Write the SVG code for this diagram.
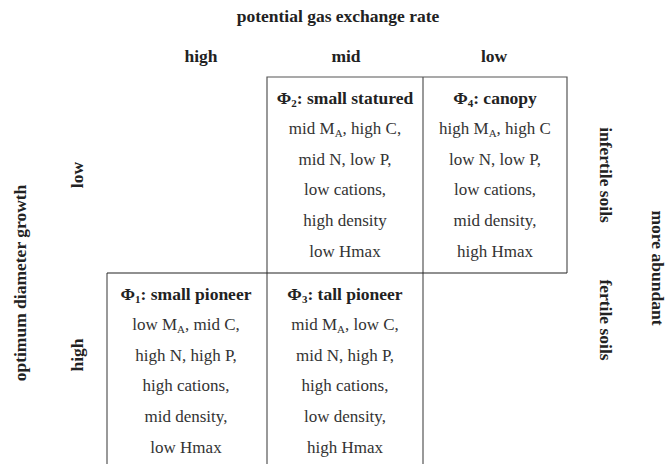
<svg xmlns="http://www.w3.org/2000/svg" width="670" height="466" viewBox="0 0 670 466">
<style>
text{font-family:"Liberation Serif","Times New Roman",serif;font-size:17px;fill:#333;text-anchor:middle}
.b{font-weight:bold;fill:#222;font-size:17.5px}
.s{font-size:11px}
.ln{stroke:#555;stroke-width:1.2;fill:none}
.hl{stroke:#222;stroke-width:1.2;fill:none}
</style>
<rect width="670" height="466" fill="#fff"/>
<g id="axis-labels">
<text class="b" x="338" y="22">potential gas exchange rate</text>
<text class="b" x="201" y="62">high</text>
<text class="b" x="346" y="62">mid</text>
<text class="b" x="494" y="62">low</text>
<text class="b" transform="translate(26,283) rotate(-90)">optimum diameter growth</text>
<text class="b" transform="translate(83,175) rotate(-90)">low</text>
<text class="b" transform="translate(83,355) rotate(-90)">high</text>
<text class="b" transform="translate(600,175) rotate(90)">infertile soils</text>
<text class="b" transform="translate(600,320) rotate(90)">fertile soils</text>
<text class="b" transform="translate(652,268) rotate(90)">more abundant</text>
</g>
<g id="connectors">
<path class="ln" d="M267,273 V77 H567 V273"/>
<path class="ln" d="M423,77 V464"/>
<path class="ln" d="M267,273 V464"/>
<path class="ln" d="M107,464 V273"/>
<path class="hl" d="M107,273 H567"/>
</g>
<g id="phi2">
<text class="b" x="345" y="104">Φ<tspan class="s" dy="3">2</tspan><tspan dy="-3">: small statured</tspan></text>
<text x="345" y="134">mid M<tspan class="s" dy="3">A</tspan><tspan dy="-3">, high C,</tspan></text>
<text x="345" y="165">mid N, low P,</text>
<text x="345" y="195">low cations,</text>
<text x="345" y="226">high density</text>
<text x="345" y="257">low Hmax</text>
</g>
<g id="phi4">
<text class="b" x="495" y="104">Φ<tspan class="s" dy="3">4</tspan><tspan dy="-3">: canopy</tspan></text>
<text x="495" y="134">high M<tspan class="s" dy="3">A</tspan><tspan dy="-3">, high C</tspan></text>
<text x="495" y="165">low N, low P,</text>
<text x="495" y="195">low cations,</text>
<text x="495" y="226">mid density,</text>
<text x="495" y="257">high Hmax</text>
</g>
<g id="phi1">
<text class="b" x="186" y="300">Φ<tspan class="s" dy="3">1</tspan><tspan dy="-3">: small pioneer</tspan></text>
<text x="186" y="330">low M<tspan class="s" dy="3">A</tspan><tspan dy="-3">, mid C,</tspan></text>
<text x="186" y="361">high N, high P,</text>
<text x="186" y="391">high cations,</text>
<text x="186" y="422">mid density,</text>
<text x="186" y="453">low Hmax</text>
</g>
<g id="phi3">
<text class="b" x="345" y="300">Φ<tspan class="s" dy="3">3</tspan><tspan dy="-3">: tall pioneer</tspan></text>
<text x="345" y="330">mid M<tspan class="s" dy="3">A</tspan><tspan dy="-3">, low C,</tspan></text>
<text x="345" y="361">mid N, high P,</text>
<text x="345" y="391">high cations,</text>
<text x="345" y="422">low density,</text>
<text x="345" y="453">high Hmax</text>
</g>
</svg>
